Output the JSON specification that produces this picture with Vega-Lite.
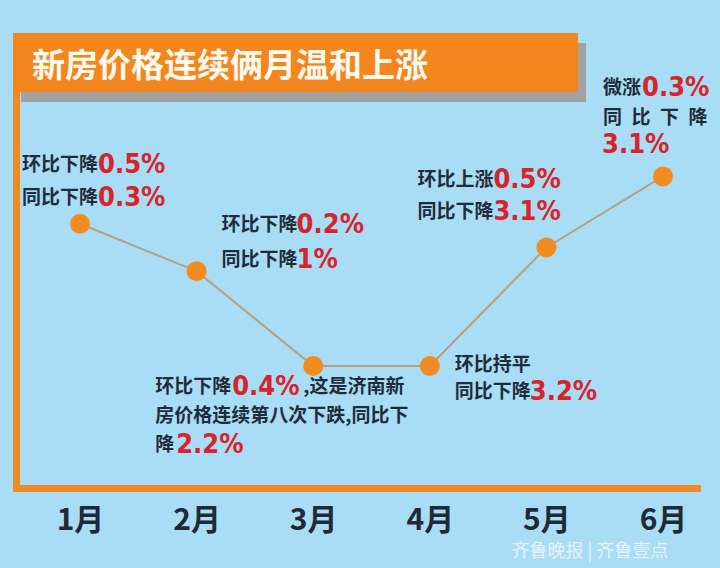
{
  "$schema": "https://vega.github.io/schema/vega-lite/v6.json",
  "width": 681,
  "height": 418,
  "autosize": {"type": "none"},
  "padding": {"left": 16, "top": 70, "right": 23, "bottom": 80},
  "background": "#a9dcf5",
  "config": {"view": {"stroke": null}, "text": {"font": "Noto Sans CJK SC"}},
  "datasets": {
    "prices": [
      {"month": 1, "index": 99.5, "mom": "环比下降0.5%", "yoy": "同比下降0.3%"},
      {"month": 2, "index": 99.3, "mom": "环比下降0.2%", "yoy": "同比下降1%"},
      {"month": 3, "index": 98.9, "mom": "环比下降0.4%", "yoy": "同比下降2.2%"},
      {"month": 4, "index": 98.9, "mom": "环比持平", "yoy": "同比下降3.2%"},
      {"month": 5, "index": 99.4, "mom": "环比上涨0.5%", "yoy": "同比下降3.1%"},
      {"month": 6, "index": 99.7, "mom": "微涨0.3%", "yoy": "同比下降3.1%"}
    ]
  },
  "data": {"name": "prices"},
  "encoding": {
    "x": {
      "field": "month", "type": "quantitative",
      "scale": {"domain": [0.4511, 6.2916], "nice": false, "zero": false},
      "axis": {
        "title": null, "values": [1, 2, 3, 4, 5, 6], "labelExpr": "datum.value + '月'",
        "grid": false, "ticks": false, "labelFlush": false, "labelOverlap": false,
        "labelFont": "Liberation Sans Narrow, Noto Sans CJK SC", "labelFontWeight": "bold",
        "labelFontSize": 30, "labelColor": "#1e2a36", "labelBaseline": "middle", "labelPadding": 32,
        "domainColor": "#f08a24", "domainWidth": 7, "domainCap": "square"
      }
    },
    "y": {
      "field": "index", "type": "quantitative",
      "scale": {"domain": [98.385, 100.149], "nice": false, "zero": false},
      "axis": {
        "title": null, "labels": false, "ticks": false, "grid": false,
        "domainColor": "#f08a24", "domainWidth": 7, "domainCap": "square"
      }
    }
  },
  "layer": [
    {
      "transform": [{"filter": "datum.month == 1"}],
      "mark": {"type": "rect", "color": "#a2a2a2"},
      "encoding": {
        "x": {"datum": 0.494, "type": "quantitative"}, "x2": {"datum": 5.3397},
        "y": {"datum": 100.263, "type": "quantitative"}, "y2": {"datum": 100.014}
      }
    },
    {
      "transform": [{"filter": "datum.month == 1"}],
      "mark": {"type": "rect", "color": "#f3861f"},
      "encoding": {
        "x": {"datum": 0.4254, "type": "quantitative"}, "x2": {"datum": 5.271},
        "y": {"datum": 100.305, "type": "quantitative"}, "y2": {"datum": 100.056}
      }
    },
    {
      "transform": [{"filter": "datum.month == 1"}],
      "mark": {"type": "text", "text": "新房价格连续俩月温和上涨", "align": "left", "baseline": "middle", "fontSize": 33, "fontWeight": "bold", "color": "#fffaf0"},
      "encoding": {"x": {"datum": 0.5883, "type": "quantitative"}, "y": {"datum": 100.162, "type": "quantitative"}}
    },
    {"mark": {"type": "line", "color": "#b5a17f", "strokeWidth": 2}},
    {"mark": {"type": "circle", "size": 400, "color": "#f28c21", "opacity": 1}},

    {"transform": [{"filter": "datum.month == 1"}],
     "mark": {"type": "text", "text": "环比下降\n同比下降", "lineBreak": "\n", "lineHeight": 33, "align": "left", "baseline": "middle", "dx": -58, "dy": -59, "fontSize": 19, "fontWeight": "bold", "color": "#1f2d3a"}},
    {"transform": [{"filter": "datum.month == 1"}],
     "mark": {"type": "text", "text": "0.5%\n0.3%", "lineBreak": "\n", "lineHeight": 33, "align": "left", "baseline": "middle", "dx": 18, "dy": -59, "fontSize": 27, "fontWeight": "bold", "font": "DejaVu Sans Condensed, Liberation Sans Narrow", "color": "#d8232a"}},

    {"transform": [{"filter": "datum.month == 2"}],
     "mark": {"type": "text", "text": "环比下降\n同比下降", "lineBreak": "\n", "lineHeight": 35, "align": "left", "baseline": "middle", "dx": 25, "dy": -46, "fontSize": 19, "fontWeight": "bold", "color": "#1f2d3a"}},
    {"transform": [{"filter": "datum.month == 2"}],
     "mark": {"type": "text", "text": "0.2%\n1%", "lineBreak": "\n", "lineHeight": 35, "align": "left", "baseline": "middle", "dx": 100, "dy": -46, "fontSize": 27, "fontWeight": "bold", "font": "DejaVu Sans Condensed, Liberation Sans Narrow", "color": "#d8232a"}},

    {"transform": [{"filter": "datum.month == 3"}],
     "mark": {"type": "text", "text": "环比下降\n房价格连续第八次下跌,同比下\n降", "lineBreak": "\n", "lineHeight": 29, "align": "left", "baseline": "middle", "dx": -158, "dy": 21, "fontSize": 19, "fontWeight": "bold", "color": "#1f2d3a"}},
    {"transform": [{"filter": "datum.month == 3"}],
     "mark": {"type": "text", "text": ",这是济南新", "align": "left", "baseline": "middle", "dx": -10, "dy": 21, "fontSize": 19, "fontWeight": "bold", "color": "#1f2d3a"}},
    {"transform": [{"filter": "datum.month == 3"}],
     "mark": {"type": "text", "text": "0.4%", "align": "left", "baseline": "middle", "dx": -81, "dy": 21, "fontSize": 27, "fontWeight": "bold", "font": "DejaVu Sans Condensed, Liberation Sans Narrow", "color": "#d8232a"}},
    {"transform": [{"filter": "datum.month == 3"}],
     "mark": {"type": "text", "text": "2.2%", "align": "left", "baseline": "middle", "dx": -137, "dy": 79, "fontSize": 27, "fontWeight": "bold", "font": "DejaVu Sans Condensed, Liberation Sans Narrow", "color": "#d8232a"}},

    {"transform": [{"filter": "datum.month == 4"}],
     "mark": {"type": "text", "text": "环比持平\n同比下降", "lineBreak": "\n", "lineHeight": 27, "align": "left", "baseline": "middle", "dx": 25, "dy": -1, "fontSize": 19, "fontWeight": "bold", "color": "#1f2d3a"}},
    {"transform": [{"filter": "datum.month == 4"}],
     "mark": {"type": "text", "text": "3.2%", "align": "left", "baseline": "middle", "dx": 100, "dy": 26, "fontSize": 27, "fontWeight": "bold", "font": "DejaVu Sans Condensed, Liberation Sans Narrow", "color": "#d8232a"}},

    {"transform": [{"filter": "datum.month == 5"}],
     "mark": {"type": "text", "text": "环比上涨\n同比下降", "lineBreak": "\n", "lineHeight": 32, "align": "left", "baseline": "middle", "dx": -129, "dy": -67.5, "fontSize": 19, "fontWeight": "bold", "color": "#1f2d3a"}},
    {"transform": [{"filter": "datum.month == 5"}],
     "mark": {"type": "text", "text": "0.5%\n3.1%", "lineBreak": "\n", "lineHeight": 32, "align": "left", "baseline": "middle", "dx": -53, "dy": -67.5, "fontSize": 27, "fontWeight": "bold", "font": "DejaVu Sans Condensed, Liberation Sans Narrow", "color": "#d8232a"}},

    {"transform": [{"filter": "datum.month == 6"}],
     "mark": {"type": "text", "text": "微涨\n同\u2002比\u2002下\u2002降", "lineBreak": "\n", "lineHeight": 30, "align": "left", "baseline": "middle", "dx": -60, "dy": -88.4, "fontSize": 19, "fontWeight": "bold", "color": "#1f2d3a"}},
    {"transform": [{"filter": "datum.month == 6"}],
     "mark": {"type": "text", "text": "0.3%", "align": "left", "baseline": "middle", "dx": -21, "dy": -88.4, "fontSize": 27, "fontWeight": "bold", "font": "DejaVu Sans Condensed, Liberation Sans Narrow", "color": "#d8232a"}},
    {"transform": [{"filter": "datum.month == 6"}],
     "mark": {"type": "text", "text": "3.1%", "align": "left", "baseline": "middle", "dx": -61, "dy": -31, "fontSize": 27, "fontWeight": "bold", "font": "DejaVu Sans Condensed, Liberation Sans Narrow", "color": "#d8232a"}},

    {
      "transform": [{"filter": "datum.month == 1"}],
      "mark": {"type": "text", "text": "齐鲁晚报 | 齐鲁壹点", "align": "left", "baseline": "middle", "fontSize": 18, "color": "#ffffff", "opacity": 0.7},
      "encoding": {"x": {"datum": 4.70, "type": "quantitative"}, "y": {"datum": 98.115, "type": "quantitative"}}
    }
  ]
}
